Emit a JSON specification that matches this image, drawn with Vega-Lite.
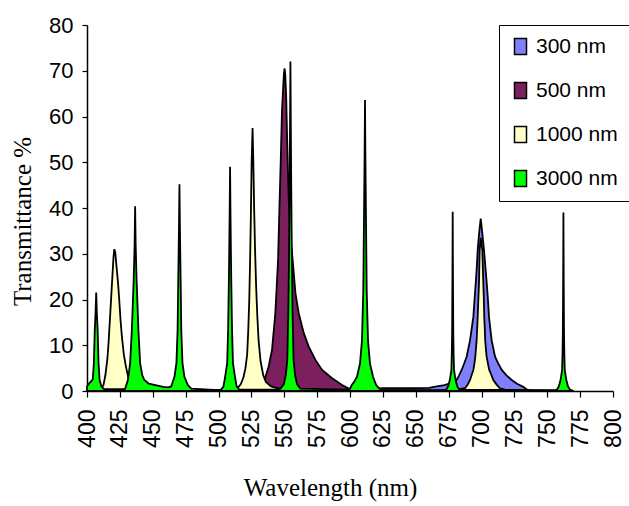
{
  "$schema": "https://vega.github.io/schema/vega-lite/v6.json",
  "width": 526,
  "height": 366,
  "autosize": "none",
  "padding": {"left": 87, "top": 25, "right": 16, "bottom": 115},
  "background": "white",
  "config": {
    "view": {"stroke": null},
    "axis": {"grid": false, "domainColor": "black", "domainWidth": 1.5, "tickColor": "black", "tickWidth": 1.2, "labelColor": "black", "titleColor": "black", "labelFont": "Liberation Sans", "titleFont": "Liberation Serif", "titleFontWeight": "normal"},
    "legend": {"labelFont": "Liberation Sans", "labelColor": "black"}
  },
  "data": {"values": [
    {"s":"300 nm","w":600,"t":0},{"s":"300 nm","w":612,"t":0.2},{"s":"300 nm","w":618,"t":0.5},{"s":"300 nm","w":625,"t":0.6},{"s":"300 nm","w":645,"t":0.6},{"s":"300 nm","w":660,"t":0.7},{"s":"300 nm","w":666,"t":1.0},{"s":"300 nm","w":672,"t":1.3},{"s":"300 nm","w":677,"t":1.8},{"s":"300 nm","w":681,"t":2.4},{"s":"300 nm","w":683,"t":3.4},{"s":"300 nm","w":684.9,"t":4.6},{"s":"300 nm","w":686.8,"t":6},{"s":"300 nm","w":688.7,"t":7.5},{"s":"300 nm","w":690,"t":9.3},{"s":"300 nm","w":691.3,"t":11.1},{"s":"300 nm","w":692.5,"t":13.6},{"s":"300 nm","w":693.8,"t":16.2},{"s":"300 nm","w":694.7,"t":20},{"s":"300 nm","w":695.6,"t":23.5},{"s":"300 nm","w":696.4,"t":27},{"s":"300 nm","w":697.1,"t":30.8},{"s":"300 nm","w":698.2,"t":34.5},{"s":"300 nm","w":699.4,"t":37.7},{"s":"300 nm","w":700.6,"t":34.5},{"s":"300 nm","w":701.9,"t":30.8},{"s":"300 nm","w":703,"t":27},{"s":"300 nm","w":704,"t":23.5},{"s":"300 nm","w":704.9,"t":20},{"s":"300 nm","w":705.7,"t":16.2},{"s":"300 nm","w":706.7,"t":13.6},{"s":"300 nm","w":707.7,"t":11.1},{"s":"300 nm","w":709,"t":9.3},{"s":"300 nm","w":710.3,"t":7.5},{"s":"300 nm","w":712.8,"t":6},{"s":"300 nm","w":715.4,"t":4.6},{"s":"300 nm","w":719,"t":3.4},{"s":"300 nm","w":723,"t":2.4},{"s":"300 nm","w":727,"t":1.6},{"s":"300 nm","w":731.8,"t":0.9},{"s":"300 nm","w":734,"t":0.4},{"s":"300 nm","w":737,"t":0},

    {"s":"500 nm","w":400,"t":0.1},{"s":"500 nm","w":470,"t":0.1},{"s":"500 nm","w":500,"t":0.2},{"s":"500 nm","w":520,"t":0.3},{"s":"500 nm","w":528,"t":0.5},{"s":"500 nm","w":532,"t":0.9},{"s":"500 nm","w":534.3,"t":1.3},{"s":"500 nm","w":535.6,"t":3},{"s":"500 nm","w":538.1,"t":5.3},{"s":"500 nm","w":540.7,"t":9},{"s":"500 nm","w":543.2,"t":17},{"s":"500 nm","w":545.3,"t":28.6},{"s":"500 nm","w":546.3,"t":39.6},{"s":"500 nm","w":547.3,"t":50},{"s":"500 nm","w":548.3,"t":61.4},{"s":"500 nm","w":549.3,"t":67},{"s":"500 nm","w":549.8,"t":69.5},{"s":"500 nm","w":550.3,"t":70.5},{"s":"500 nm","w":550.8,"t":69},{"s":"500 nm","w":551.5,"t":64},{"s":"500 nm","w":552.2,"t":55},{"s":"500 nm","w":553.4,"t":42},{"s":"500 nm","w":555,"t":33},{"s":"500 nm","w":556.4,"t":28.6},{"s":"500 nm","w":558.5,"t":21.4},{"s":"500 nm","w":561,"t":17},{"s":"500 nm","w":564.8,"t":12.7},{"s":"500 nm","w":568.6,"t":9.7},{"s":"500 nm","w":573.7,"t":6.8},{"s":"500 nm","w":578.8,"t":4.6},{"s":"500 nm","w":586.4,"t":2.8},{"s":"500 nm","w":594,"t":1.3},{"s":"500 nm","w":600.4,"t":0.3},{"s":"500 nm","w":605,"t":0.1},{"s":"500 nm","w":620,"t":0},

    {"s":"1000 nm","w":400,"t":0.2},{"s":"1000 nm","w":408,"t":0.4},{"s":"1000 nm","w":411,"t":0.7},{"s":"1000 nm","w":412.5,"t":1.3},{"s":"1000 nm","w":414,"t":3.5},{"s":"1000 nm","w":415.5,"t":7},{"s":"1000 nm","w":416.5,"t":11},{"s":"1000 nm","w":417.5,"t":16},{"s":"1000 nm","w":418.5,"t":21},{"s":"1000 nm","w":419.5,"t":26},{"s":"1000 nm","w":420.2,"t":29.5},{"s":"1000 nm","w":420.8,"t":31},{"s":"1000 nm","w":421.5,"t":30.3},{"s":"1000 nm","w":422.5,"t":27},{"s":"1000 nm","w":423.5,"t":24},{"s":"1000 nm","w":424.5,"t":20},{"s":"1000 nm","w":425.5,"t":15.5},{"s":"1000 nm","w":426.5,"t":12},{"s":"1000 nm","w":428,"t":8},{"s":"1000 nm","w":429.5,"t":5.5},{"s":"1000 nm","w":431,"t":3.5},{"s":"1000 nm","w":432.5,"t":1.8},{"s":"1000 nm","w":435,"t":1},{"s":"1000 nm","w":440,"t":0.7},{"s":"1000 nm","w":450,"t":0.5},{"s":"1000 nm","w":480,"t":0.2},{"s":"1000 nm","w":505,"t":0.3},{"s":"1000 nm","w":512,"t":0.4},{"s":"1000 nm","w":515,"t":0.8},{"s":"1000 nm","w":517,"t":1.5},{"s":"1000 nm","w":519,"t":3},{"s":"1000 nm","w":520.5,"t":5},{"s":"1000 nm","w":521.8,"t":8},{"s":"1000 nm","w":522.6,"t":13},{"s":"1000 nm","w":523.4,"t":20},{"s":"1000 nm","w":524,"t":28},{"s":"1000 nm","w":524.6,"t":38},{"s":"1000 nm","w":525.2,"t":50},{"s":"1000 nm","w":525.9,"t":57.5},{"s":"1000 nm","w":526.5,"t":50},{"s":"1000 nm","w":527.1,"t":40},{"s":"1000 nm","w":527.8,"t":31},{"s":"1000 nm","w":528.6,"t":23},{"s":"1000 nm","w":529.5,"t":16.5},{"s":"1000 nm","w":530.5,"t":11},{"s":"1000 nm","w":532,"t":6.5},{"s":"1000 nm","w":534,"t":3.5},{"s":"1000 nm","w":536,"t":2},{"s":"1000 nm","w":540,"t":1},{"s":"1000 nm","w":545,"t":0.6},{"s":"1000 nm","w":555,"t":0.4},{"s":"1000 nm","w":580,"t":0.2},{"s":"1000 nm","w":620,"t":0.1},{"s":"1000 nm","w":670,"t":0.1},{"s":"1000 nm","w":682,"t":0.3},{"s":"1000 nm","w":685,"t":0.5},{"s":"1000 nm","w":687.5,"t":0.6},{"s":"1000 nm","w":689.5,"t":1.4},{"s":"1000 nm","w":691.3,"t":2.4},{"s":"1000 nm","w":692.5,"t":3.5},{"s":"1000 nm","w":693.8,"t":4.6},{"s":"1000 nm","w":694.6,"t":6},{"s":"1000 nm","w":695.3,"t":7.5},{"s":"1000 nm","w":695.8,"t":9.3},{"s":"1000 nm","w":696.3,"t":11.1},{"s":"1000 nm","w":696.7,"t":13.6},{"s":"1000 nm","w":697.1,"t":16.2},{"s":"1000 nm","w":697.6,"t":20},{"s":"1000 nm","w":698.1,"t":23.5},{"s":"1000 nm","w":698.6,"t":30.8},{"s":"1000 nm","w":699.4,"t":33.5},{"s":"1000 nm","w":700.6,"t":30.8},{"s":"1000 nm","w":701.4,"t":23.5},{"s":"1000 nm","w":701.8,"t":20},{"s":"1000 nm","w":702.1,"t":16.2},{"s":"1000 nm","w":702.5,"t":13.6},{"s":"1000 nm","w":702.8,"t":11.1},{"s":"1000 nm","w":703.3,"t":9.3},{"s":"1000 nm","w":703.9,"t":7.5},{"s":"1000 nm","w":704.9,"t":6},{"s":"1000 nm","w":705.9,"t":4.6},{"s":"1000 nm","w":707.5,"t":3.5},{"s":"1000 nm","w":709,"t":2.4},{"s":"1000 nm","w":711.5,"t":1.4},{"s":"1000 nm","w":714,"t":0.6},{"s":"1000 nm","w":718,"t":0.3},{"s":"1000 nm","w":725,"t":0.1},{"s":"1000 nm","w":740,"t":0},

    {"s":"3000 nm","w":400,"t":1.0},{"s":"3000 nm","w":402,"t":1.8},{"s":"3000 nm","w":403.5,"t":2.2},{"s":"3000 nm","w":404.4,"t":2.6},{"s":"3000 nm","w":405.2,"t":6},{"s":"3000 nm","w":405.9,"t":13.3},{"s":"3000 nm","w":406.5,"t":17},{"s":"3000 nm","w":407,"t":21.5},{"s":"3000 nm","w":407.5,"t":17},{"s":"3000 nm","w":408.1,"t":13.3},{"s":"3000 nm","w":408.8,"t":6},{"s":"3000 nm","w":409.6,"t":2.4},{"s":"3000 nm","w":411,"t":1},{"s":"3000 nm","w":413,"t":0.4},{"s":"3000 nm","w":428,"t":0.4},
    {"s":"3000 nm","w":429,"t":0.5},{"s":"3000 nm","w":431.1,"t":2.4},{"s":"3000 nm","w":432.8,"t":6.1},{"s":"3000 nm","w":434.1,"t":13.3},{"s":"3000 nm","w":435.5,"t":24.3},{"s":"3000 nm","w":436.2,"t":32},{"s":"3000 nm","w":436.6,"t":40.4},{"s":"3000 nm","w":437,"t":32},{"s":"3000 nm","w":437.7,"t":24.3},{"s":"3000 nm","w":439.1,"t":13.3},{"s":"3000 nm","w":440.4,"t":6.1},{"s":"3000 nm","w":442,"t":3.5},{"s":"3000 nm","w":443.6,"t":2.4},{"s":"3000 nm","w":447,"t":1.6},{"s":"3000 nm","w":452,"t":1.3},{"s":"3000 nm","w":458,"t":0.9},{"s":"3000 nm","w":462,"t":0.8},
    {"s":"3000 nm","w":464,"t":1.0},{"s":"3000 nm","w":466.5,"t":3.1},{"s":"3000 nm","w":468,"t":6.1},{"s":"3000 nm","w":468.9,"t":13.3},{"s":"3000 nm","w":469.4,"t":24.3},{"s":"3000 nm","w":469.95,"t":36},{"s":"3000 nm","w":470.3,"t":45.2},{"s":"3000 nm","w":470.65,"t":36},{"s":"3000 nm","w":471.2,"t":24.3},{"s":"3000 nm","w":471.7,"t":13.3},{"s":"3000 nm","w":472.6,"t":6.1},{"s":"3000 nm","w":474.1,"t":3.1},{"s":"3000 nm","w":476.7,"t":1.3},{"s":"3000 nm","w":479.3,"t":0.5},{"s":"3000 nm","w":500,"t":0.2},
    {"s":"3000 nm","w":502,"t":0.3},{"s":"3000 nm","w":503.8,"t":1},{"s":"3000 nm","w":505,"t":3},{"s":"3000 nm","w":506.6,"t":6.1},{"s":"3000 nm","w":507.3,"t":13.3},{"s":"3000 nm","w":507.9,"t":24.3},{"s":"3000 nm","w":508.45,"t":38},{"s":"3000 nm","w":508.8,"t":49},{"s":"3000 nm","w":509.15,"t":38},{"s":"3000 nm","w":509.7,"t":24.3},{"s":"3000 nm","w":510.3,"t":13.3},{"s":"3000 nm","w":511,"t":6.1},{"s":"3000 nm","w":512.6,"t":3},{"s":"3000 nm","w":513.8,"t":1},{"s":"3000 nm","w":515.8,"t":0.3},{"s":"3000 nm","w":545,"t":0.3},
    {"s":"3000 nm","w":547.2,"t":0.5},{"s":"3000 nm","w":549.7,"t":1.5},{"s":"3000 nm","w":551.2,"t":3.5},{"s":"3000 nm","w":552.3,"t":6.8},{"s":"3000 nm","w":553.1,"t":17},{"s":"3000 nm","w":553.6,"t":28.6},{"s":"3000 nm","w":554.1,"t":45},{"s":"3000 nm","w":554.4,"t":58},{"s":"3000 nm","w":554.7,"t":72},{"s":"3000 nm","w":555,"t":58},{"s":"3000 nm","w":555.3,"t":45},{"s":"3000 nm","w":555.8,"t":28.6},{"s":"3000 nm","w":556.3,"t":17},{"s":"3000 nm","w":557.1,"t":6.8},{"s":"3000 nm","w":558.2,"t":3.5},{"s":"3000 nm","w":559.7,"t":1.5},{"s":"3000 nm","w":562.2,"t":0.5},{"s":"3000 nm","w":598,"t":0.3},
    {"s":"3000 nm","w":600,"t":0.5},{"s":"3000 nm","w":601.4,"t":1.3},{"s":"3000 nm","w":603.5,"t":2.2},{"s":"3000 nm","w":605.3,"t":3.1},{"s":"3000 nm","w":607.6,"t":6},{"s":"3000 nm","w":609.1,"t":11},{"s":"3000 nm","w":610.1,"t":22},{"s":"3000 nm","w":610.6,"t":36.6},{"s":"3000 nm","w":611.05,"t":50},{"s":"3000 nm","w":611.4,"t":63.6},{"s":"3000 nm","w":611.75,"t":50},{"s":"3000 nm","w":612.2,"t":36.6},{"s":"3000 nm","w":612.7,"t":22},{"s":"3000 nm","w":613.7,"t":11},{"s":"3000 nm","w":615.2,"t":6},{"s":"3000 nm","w":617.5,"t":3.1},{"s":"3000 nm","w":619.9,"t":1.3},{"s":"3000 nm","w":622.4,"t":0.5},{"s":"3000 nm","w":626,"t":0.2},{"s":"3000 nm","w":672,"t":0.2},
    {"s":"3000 nm","w":673.1,"t":0.3},{"s":"3000 nm","w":674.6,"t":1},{"s":"3000 nm","w":675.9,"t":2.4},{"s":"3000 nm","w":677.1,"t":4.6},{"s":"3000 nm","w":677.4,"t":8},{"s":"3000 nm","w":677.65,"t":12.5},{"s":"3000 nm","w":677.9,"t":25},{"s":"3000 nm","w":678.1,"t":39.2},{"s":"3000 nm","w":678.3,"t":25},{"s":"3000 nm","w":678.55,"t":12.5},{"s":"3000 nm","w":678.8,"t":8},{"s":"3000 nm","w":679.1,"t":4.6},{"s":"3000 nm","w":680.3,"t":2.4},{"s":"3000 nm","w":681.6,"t":1},{"s":"3000 nm","w":683.1,"t":0.3},{"s":"3000 nm","w":756,"t":0.2},
    {"s":"3000 nm","w":757.3,"t":0.3},{"s":"3000 nm","w":758.8,"t":1},{"s":"3000 nm","w":760.1,"t":2.4},{"s":"3000 nm","w":761.3,"t":4.6},{"s":"3000 nm","w":761.6,"t":8},{"s":"3000 nm","w":761.85,"t":12.5},{"s":"3000 nm","w":762.1,"t":25},{"s":"3000 nm","w":762.3,"t":39},{"s":"3000 nm","w":762.5,"t":25},{"s":"3000 nm","w":762.75,"t":12.5},{"s":"3000 nm","w":763,"t":8},{"s":"3000 nm","w":763.3,"t":4.6},{"s":"3000 nm","w":764.5,"t":2.4},{"s":"3000 nm","w":765.8,"t":1},{"s":"3000 nm","w":767.3,"t":0.3},{"s":"3000 nm","w":770,"t":0}
  ]},
  "encoding": {
    "x": {"field": "w", "type": "quantitative",
      "scale": {"domain": [400, 800], "nice": false, "zero": false},
      "axis": {"values": [400,425,450,475,500,525,550,575,600,625,650,675,700,725,750,775,800], "labelAngle": 270, "labelFontSize": 23, "labelPadding": 12, "tickSize": 6, "title": "Wavelength (nm)", "titleFontSize": 25, "titleAnchor": "middle", "titleX": 243, "titleY": 104, "titleBaseline": "alphabetic"}},
    "y": {"field": "t", "type": "quantitative",
      "scale": {"domain": [0, 80], "nice": false},
      "axis": {"values": [0,10,20,30,40,50,60,70,80], "labelFontSize": 22, "labelPadding": 9, "tickSize": 5, "title": "Transmittance %", "titleFontSize": 25, "titleAngle": -90, "titleX": -65, "titleY": 196, "titleBaseline": "middle", "titleAlign": "center"}},
    "color": {"field": "s", "type": "nominal",
      "scale": {"domain": ["300 nm", "500 nm", "1000 nm", "3000 nm"], "range": ["#8080ff", "#7b1f5e", "#ffffc6", "#00ff00"]},
      "legend": {"title": null, "orient": "none", "legendX": 412, "legendY": 0, "padding": 11, "rowPadding": 21, "symbolSize": 256, "symbolType": "M-0.75,-1H0.75V1H-0.75Z", "symbolStrokeColor": "black", "symbolStrokeWidth": 1.5, "symbolOpacity": 1, "labelFontSize": 21, "labelOffset": 5, "strokeColor": "black", "fillColor": "white"}}
  },
  "layer": [
    {"transform": [{"filter": "datum.s === '300 nm'"}], "mark": {"type": "area", "stroke": "black", "strokeWidth": 1.8, "opacity": 1}},
    {"transform": [{"filter": "datum.s === '500 nm'"}], "mark": {"type": "area", "stroke": "black", "strokeWidth": 1.8, "opacity": 1}},
    {"transform": [{"filter": "datum.s === '1000 nm'"}], "mark": {"type": "area", "stroke": "black", "strokeWidth": 1.8, "opacity": 1}},
    {"transform": [{"filter": "datum.s === '3000 nm'"}], "mark": {"type": "area", "stroke": "black", "strokeWidth": 1.8, "opacity": 1}}
  ]
}
